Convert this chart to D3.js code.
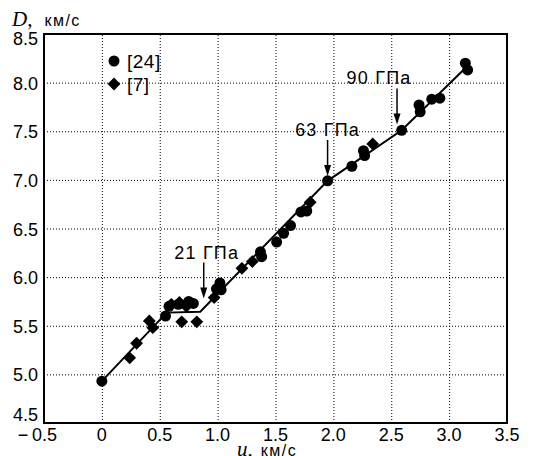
<html>
<head>
<script src="https://d3js.org/d3.v7.min.js"></script>
<style>
  body { margin: 0; background: #fff; }
  text { font-family: "Liberation Sans", Arial, sans-serif; fill: #000; }
</style>
</head>
<body>
<svg id="chart" width="540" height="456"></svg>
<script>
// data
const ref24U = [0.00, 0.55, 0.58, 0.66, 0.75, 0.79, 0.99, 1.02, 1.03, 1.37, 1.38, 1.51, 1.57, 1.63, 1.72, 1.77, 1.95, 2.16, 2.26, 2.27, 2.59, 2.74, 2.75, 2.85, 2.92, 3.14, 3.16];
const ref24D = [4.93, 5.60, 5.70, 5.72, 5.75, 5.73, 5.88, 5.94, 5.87, 6.26, 6.21, 6.36, 6.45, 6.53, 6.67, 6.68, 6.99, 7.14, 7.30, 7.25, 7.51, 7.77, 7.70, 7.83, 7.84, 8.20, 8.13];

const ref7U = [0.24, 0.30, 0.41, 0.44, 0.60, 0.67, 0.73, 0.69, 0.82, 0.97, 1.21, 1.30, 1.80, 2.34];
const ref7D = [5.17, 5.32, 5.55, 5.48, 5.72, 5.74, 5.70, 5.54, 5.54, 5.79, 6.09, 6.16, 6.77, 7.37];

const fitU = [0.00, 0.56, 0.85, 1.95, 2.59, 3.15];
const fitD = [4.93, 5.635, 5.645, 6.99, 7.51, 8.16];

const noteText = ["21 ГПа", "63 ГПа", "90 ГПа"];
const noteU = [0.88, 1.95, 2.55];
const noteD = [5.78, 7.04, 7.57];

const xTicks = [-0.5, 0, 0.5, 1.0, 1.5, 2.0, 2.5, 3.0, 3.5];
const yTicks = [4.5, 5.0, 5.5, 6.0, 6.5, 7.0, 7.5, 8.0, 8.5];
const legendLabels = ["[24]", "[7]"];

const svg = d3.select('#chart');
const mLeft = 44, mRight = 507, mTop = 34, mBottom = 423;

const x = d3.scaleLinear().domain([-0.5, 3.5]).range([mLeft, mRight]);
const y = d3.scaleLinear().domain([4.5, 8.5]).range([mBottom, mTop]);

// dotted grid
svg.append('g')
    .attr('transform', `translate(0, ${mBottom})`)
    .call(d3.axisBottom(x).tickValues(xTicks.slice(1, -1)).tickSize(-(mBottom - mTop)).tickFormat(''))
    .call(g => g.select('.domain').remove())
    .selectAll('line').attr('stroke', '#000').attr('stroke-dasharray', '1,2');

svg.append('g')
    .attr('transform', `translate(${mLeft}, 0)`)
    .call(d3.axisLeft(y).tickValues(yTicks.slice(1, -1)).tickSize(-(mRight - mLeft)).tickFormat(''))
    .call(g => g.select('.domain').remove())
    .selectAll('line').attr('stroke', '#000').attr('stroke-dasharray', '1,2');

// frame
svg.append('rect')
    .attr('x', mLeft).attr('y', mTop)
    .attr('width', mRight - mLeft).attr('height', mBottom - mTop)
    .attr('fill', 'none').attr('stroke', '#000').attr('stroke-width', 2);

// tick labels
svg.selectAll('.xl').data(xTicks).enter().append('text')
    .attr('x', d => d < 0 ? x(d) + 13 : x(d))
    .attr('y', mBottom + 18)
    .attr('text-anchor', d => d < 0 ? 'end' : 'middle')
    .style('font-size', '18px')
    .text(d => d < 0 ? '\u2212\u2009' + d3.format('.1f')(-d) : (d === 0 ? '0' : d3.format('.1f')(d)));

svg.selectAll('.yl').data(yTicks).enter().append('text')
    .attr('x', mLeft - 6)
    .attr('y', d => y(d) + 7 + (d === 8.5 ? 4 : 0) + (d === 4.5 ? -9 : 0))
    .attr('text-anchor', 'end')
    .style('font-size', '18px')
    .text(d => d3.format('.1f')(d));

// axis titles
const yt = svg.append('text').attr('x', 12).attr('y', 26);
yt.append('tspan').style('font-family', '"Liberation Serif", serif').style('font-style', 'italic').style('font-size', '21px').text('D,');
yt.append('tspan').attr('dx', 12).style('font-size', '16px').style('letter-spacing', '1.5px').text('км/с');

const xt = svg.append('text').attr('x', 237).attr('y', 456);
xt.append('tspan').style('font-family', '"Liberation Serif", serif').style('font-style', 'italic').style('font-size', '21px').text('u,');
xt.append('tspan').attr('dx', 8).style('font-size', '16px').style('letter-spacing', '1.5px').text('км/с');

// fitted line
svg.append('path')
    .datum(d3.zip(fitU, fitD))
    .attr('d', d3.line().x(d => x(d[0])).y(d => y(d[1])))
    .attr('fill', 'none').attr('stroke', '#000').attr('stroke-width', 2);

// markers
const diamond = d3.symbol(d3.symbolSquare, 82);
svg.selectAll('.c24').data(d3.zip(ref24U, ref24D)).enter().append('circle')
    .attr('cx', d => x(d[0])).attr('cy', d => y(d[1])).attr('r', 5.5).attr('fill', '#000');

svg.selectAll('.d7').data(d3.zip(ref7U, ref7D)).enter().append('path')
    .attr('d', diamond)
    .attr('transform', d => `translate(${x(d[0])},${y(d[1])}) rotate(45)`)
    .attr('fill', '#000');

// pressure annotations with arrows
const noteDx = [3, 0, -18];
noteText.forEach((t, i) => {
    const px = x(noteU[i]), py = y(noteD[i]);
    svg.append('line')
        .attr('x1', px).attr('x2', px)
        .attr('y1', py - 36).attr('y2', py - 9)
        .attr('stroke', '#000').attr('stroke-width', 1.5);
    svg.append('path')
        .attr('d', `M${px - 3.5},${py - 11}L${px + 3.5},${py - 11}L${px},${py}Z`)
        .attr('fill', '#000');
    svg.append('text')
        .attr('x', px + noteDx[i]).attr('y', py - 40)
        .attr('text-anchor', 'middle')
        .style('font-size', '18px')
        .style('letter-spacing', '1.2px')
        .text(t);
});

// legend
const lg = svg.append('g');
lg.append('circle').attr('cx', 114).attr('cy', 61).attr('r', 5.5).attr('fill', '#000');
lg.append('path').attr('d', diamond).attr('transform', 'translate(114,84) rotate(45)').attr('fill', '#000');
lg.selectAll('text').data(legendLabels).enter().append('text')
    .attr('x', 127).attr('y', (d, i) => 68 + i * 23)
    .style('font-size', '19px')
    .style('letter-spacing', '0.5px')
    .text(d => d);
</script>
</body>
</html>
